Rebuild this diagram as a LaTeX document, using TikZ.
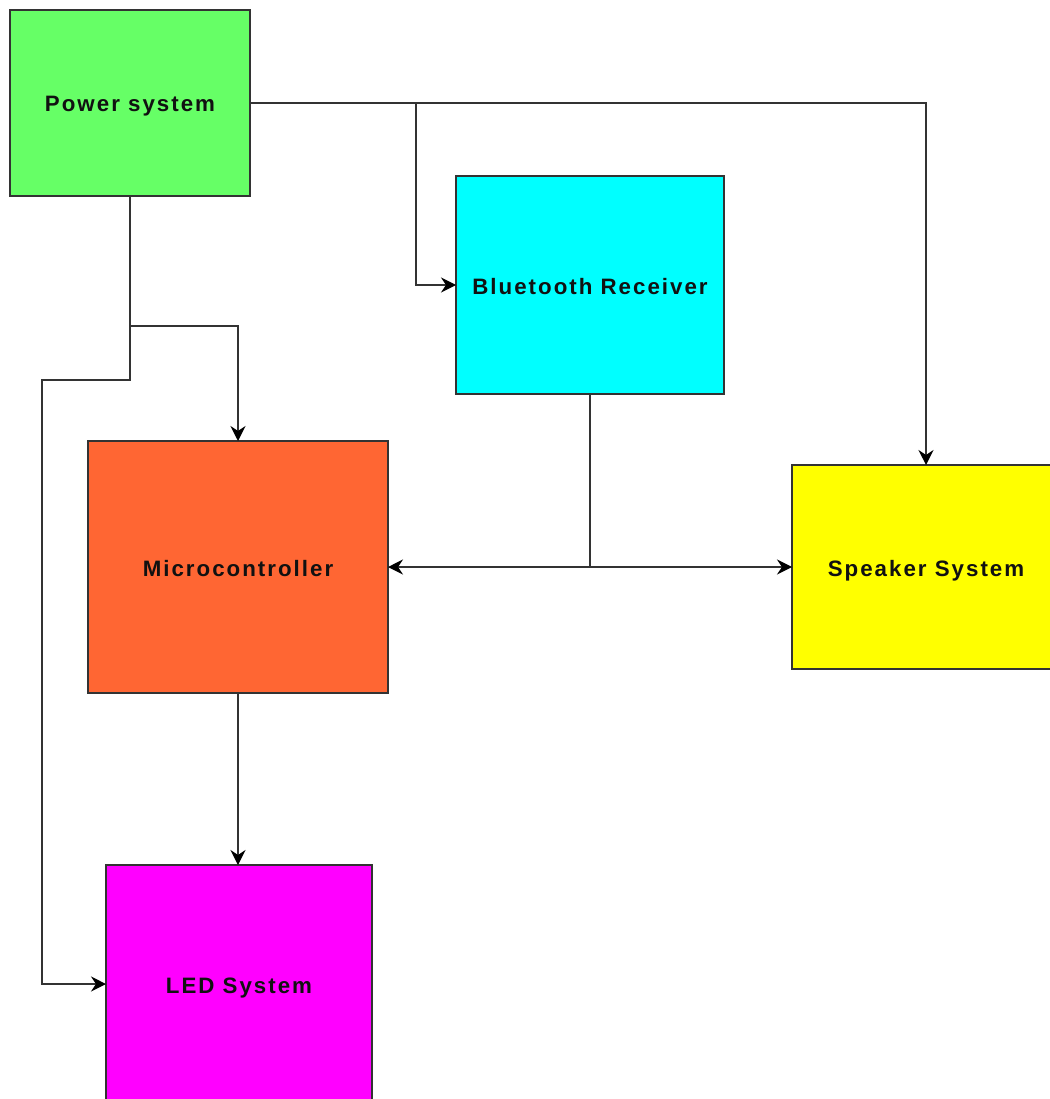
\documentclass[tikz,border=0pt]{standalone}
\usepackage{fontspec}
\setmainfont{Liberation Sans}[LetterSpace=9]
\usetikzlibrary{arrows.meta}
\definecolor{cpow}{HTML}{66FF66}
\definecolor{cbt}{HTML}{00FFFF}
\definecolor{cmc}{HTML}{FF6633}
\definecolor{csp}{HTML}{FFFF00}
\definecolor{cled}{HTML}{FF00FF}
\definecolor{cline}{HTML}{333333}
\definecolor{ctext}{HTML}{111111}
\tikzset{
  blk/.style={draw=cline, line width=1.5pt, inner sep=0pt, outer sep=0pt, anchor=north west,
    text height=18pt, text depth=0pt,
    font=\fontsize{22.3}{26}\selectfont\bfseries, text=ctext},
  wire/.style={draw=cline, line width=1.5pt},
  arr/.style={wire, -{Stealth[length=15pt,width=15pt,inset=5pt,color=black]}}
}
\begin{document}
\begin{tikzpicture}[x=1pt,y=-1pt]
\useasboundingbox (0,0) rectangle (1049,1099);
\node[blk, fill=cpow, minimum width=240pt, minimum height=186pt] (pw) at (10,10) {Power system};
\node[blk, fill=cbt, minimum width=268pt, minimum height=218pt] (bt) at (456,176) {Bluetooth Receiver};
\node[blk, fill=cmc, minimum width=300pt, minimum height=252pt] (mc) at (88,441) {Microcontroller};
\node[blk, fill=csp, minimum width=268pt, minimum height=204pt] (sp) at (792,465) {Speaker System};
\node[blk, fill=cled, minimum width=266pt, minimum height=238pt] (led) at (106,865) {LED System};
\coordinate (j1) at (416,103);
\coordinate (j2) at (130,326);
\coordinate (j3) at (130,380);
\coordinate (j4) at (42,380);
\coordinate (j5) at (590,567);
\draw[arr] (pw.east) -- (j1) |- (bt.west);
\draw[arr] (pw.east) -| (sp.north);
\draw[arr] (pw.south) -- (j2) -| (mc.north);
\draw[arr] (j2) -- (j3) -- (j4) |- (led.west);
\draw[wire] (bt.south) -- (j5);
\draw[arr] (j5) -- (mc.east |- j5);
\draw[arr] (j5) -- (sp.west);
\draw[arr] (mc.south) -- (mc.south |- led.north);
\end{tikzpicture}
\end{document}
